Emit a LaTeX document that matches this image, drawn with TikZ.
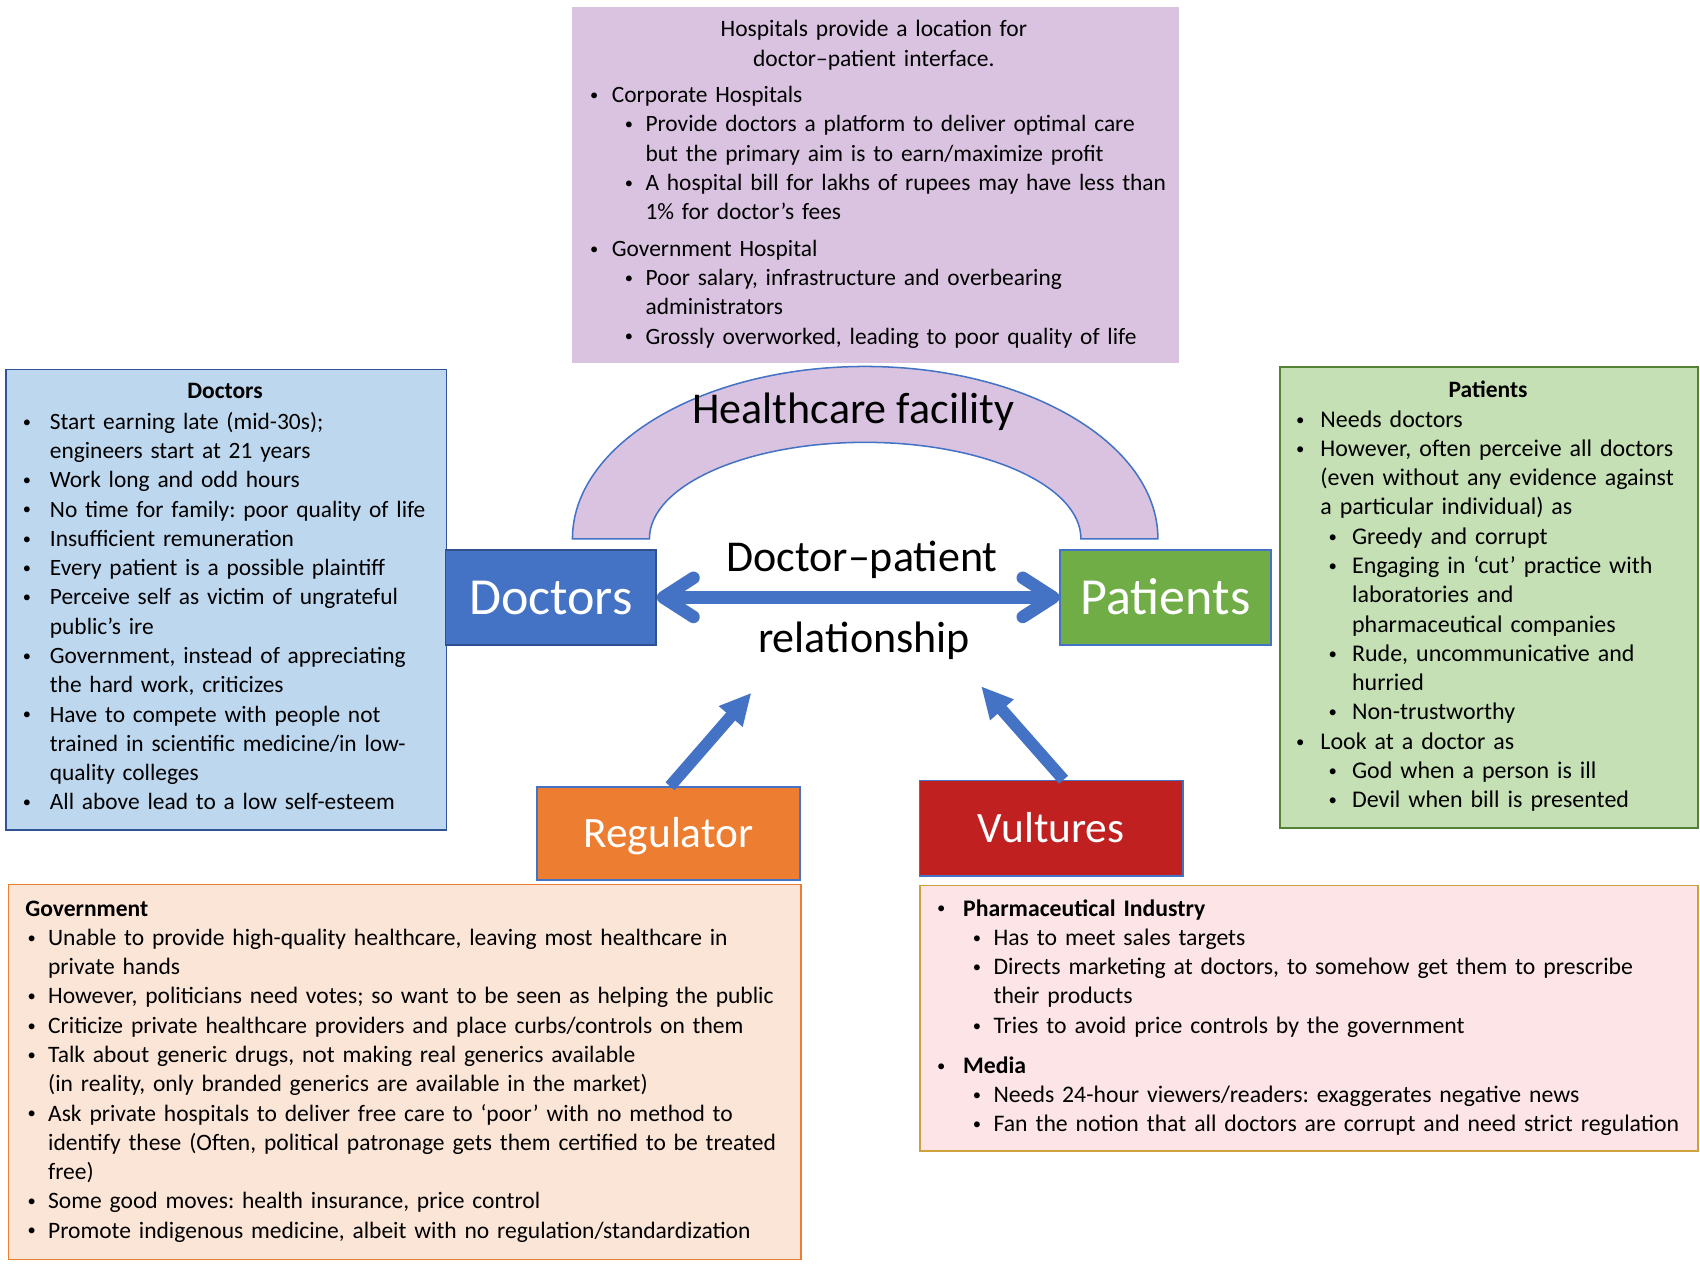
\documentclass[tikz,border=0pt]{standalone}
\usepackage{fontspec}
\usepackage{graphicx}
\setmainfont{Carlito}
\usetikzlibrary{arrows.meta}
\definecolor{lav}{HTML}{D9C3E0}
\definecolor{docfill}{HTML}{BDD7EE}
\definecolor{docline}{HTML}{2F5597}
\definecolor{patfill}{HTML}{C5E0B4}
\definecolor{patline}{HTML}{548235}
\definecolor{accblue}{HTML}{4472C4}
\definecolor{darkblue}{HTML}{2F528F}
\definecolor{accgreen}{HTML}{70AD47}
\definecolor{accorange}{HTML}{ED7D31}
\definecolor{accred}{HTML}{C0201F}
\definecolor{govfill}{HTML}{FBE5D6}
\definecolor{medfill}{HTML}{FCE4E7}
\definecolor{medline}{HTML}{CDA23C}
\newdimen\upx \upx=0.5pt
\newcommand\mybul{\raisebox{1pt}{\scalebox{0.7}{\textbullet}}}
\newcommand\Bul[3]{\hspace*{#1\upx}\makebox[#2\upx][l]{\mybul}#3\par}
\newcommand\Con[2]{\hspace*{#1\upx}#2\par}
\hbadness=10000 \hfuzz=50pt
\tikzset{
  panel/.style={draw, line width=0.8pt, inner sep=0pt, anchor=north west},
  listtext/.style 2 args={anchor=base west, inner sep=0pt, align=left, text width=#1,
    font=\fontsize{#2}{13.5}\selectfont\frenchspacing},
  bodytext/.style={inner sep=0pt, font=\fontsize{10.85}{13.5}\selectfont\frenchspacing},
  mainbox/.style={draw, line width=0.8pt, inner sep=0pt, text=white, text depth=0pt},
  bigtext/.style={inner sep=0pt, anchor=base, font=\fontsize{20.3}{24}\selectfont},
  dblarrow/.style={draw=accblue, line width=5.8pt,
    {Straight Barb[length=14pt,width=18pt,round]}-{Straight Barb[length=14pt,width=18pt,round]}},
  uparrow/.style={draw=accblue, line width=5.5pt, -{Triangle[length=14.5pt,width=13.5pt]}}
}
\begin{document}
\begin{tikzpicture}[x=0.5pt,y=-0.5pt]
\useasboundingbox[fill=white] (0,0) rectangle (1568,1166);

% top hospital box
\node[panel, fill=lav, draw=none, minimum width=280pt, minimum height=164pt] (hosp) at (527,6) {};
\node[bodytext, anchor=base, text width=270pt, align=center] (hosptitle) at (806,34)
  {Hospitals provide a location for\\doctor–patient interface.};
\node[listtext={300pt}{10.8}] (hosplist) at (544,94.6) {%
\Bul{0}{20}{Corporate Hospitals}
\Bul{32}{19}{Provide doctors a platform to deliver optimal care}
\Con{51}{but the primary aim is to earn/maximize profit}
\Bul{32}{19}{A hospital bill for lakhs of rupees may have less than}
\Con{51}{1\% for doctor’s fees}
\vspace{3.35pt}
\Bul{0}{20}{Government Hospital}
\Bul{32}{19}{Poor salary, infrastructure and overbearing}
\Con{51}{administrators}
\Bul{32}{19}{Grossly overworked, leading to poor quality of life}};

% arch
\path[draw=accblue, fill=lav, line width=0.7pt] (528,497)
  arc[start angle=180, end angle=0, x radius=135pt, y radius=79.5pt]
  -- (997,497)
  arc[start angle=0, end angle=180, x radius=99.5pt, y radius=44.5pt] -- cycle;
\node[bigtext] (hf) at (787,391) {Healthcare facility};

% doctors text box
\node[panel, fill=docfill, draw=docline, minimum width=203pt, minimum height=212.5pt] (docbox) at (5,340) {};
\node[bodytext, anchor=base] (doctitle) at (207.5,368) {\textbf{Doctors}};
\node[listtext={220pt}{10.8}] (doclist) at (20.6,396) {%
\Bul{0}{25}{Start earning late (mid-30s);}
\Con{25}{engineers start at 21 years}
\Bul{0}{25}{Work long and odd hours}
\Bul{0}{25}{No time for family: poor quality of life}
\Bul{0}{25}{Insufficient remuneration}
\Bul{0}{25}{Every patient is a possible plaintiff}
\Bul{0}{25}{Perceive self as victim of ungrateful}
\Con{25}{public’s ire}
\Bul{0}{25}{Government, instead of appreciating}
\Con{25}{the hard work, criticizes}
\Bul{0}{25}{Have to compete with people not}
\Con{25}{trained in scientific medicine/in low-}
\Con{25}{quality colleges}
\Bul{0}{25}{All above lead to a low self-esteem}};

% patients text box
\node[panel, fill=patfill, draw=patline, minimum width=192.5pt, minimum height=212.5pt] (patbox) at (1180,338) {};
\node[bodytext, anchor=base] (pattitle) at (1372.5,366.7) {\textbf{Patients}};
\node[listtext={220pt}{11.05}] (patlist) at (1195,394) {%
\Bul{0}{22.5}{Needs doctors}
\Bul{0}{22.5}{However, often perceive all doctors}
\Con{22.5}{(even without any evidence against}
\Con{22.5}{a particular individual) as}
\Bul{30}{21.7}{Greedy and corrupt}
\Bul{30}{21.7}{Engaging in ‘cut’ practice with}
\Con{51.7}{laboratories and}
\Con{51.7}{pharmaceutical companies}
\Bul{30}{21.7}{Rude, uncommunicative and}
\Con{51.7}{hurried}
\Bul{30}{21.7}{Non-trustworthy}
\Bul{0}{22.5}{Look at a doctor as}
\Bul{30}{21.7}{God when a person is ill}
\Bul{30}{21.7}{Devil when bill is presented}};

% main actor boxes
\node[mainbox, fill=accblue, draw=darkblue, minimum width=97pt, minimum height=44pt,
  font=\fontsize{24}{28}\selectfont, text height=15.5pt] (docmain) at (508,551) {Doctors};
\node[mainbox, fill=accgreen, draw=accblue, minimum width=97pt, minimum height=44pt,
  font=\fontsize{24}{28}\selectfont, text height=15.5pt] (patmain) at (1075,551) {Patients};
\node[mainbox, fill=accorange, draw=accblue, minimum width=121.5pt, minimum height=43pt,
  font=\fontsize{20}{24}\selectfont, text height=12.9pt] (regmain) at (616.5,769) {Regulator};
\node[mainbox, fill=accred, draw=accblue, minimum width=121.5pt, minimum height=44pt,
  font=\fontsize{20}{24}\selectfont, text height=12.9pt] (vulmain) at (969.5,764) {Vultures};

% relationship
\node[bigtext] (dp1) at (795,527) {Doctor–patient};
\node[bigtext] (dp2) at (797,602) {relationship};
\draw[dblarrow] (docmain.east) -- (patmain.west);
\coordinate (regtip) at (693,639);
\coordinate (vultip) at (905,633);
\draw[uparrow] ([xshift=0.75pt]regmain.north) -- (regtip);
\draw[uparrow] ([xshift=5.75pt]vulmain.north) -- (vultip);

% government box
\node[panel, fill=govfill, draw=accorange, minimum width=365.5pt, minimum height=173pt] (govbox) at (7,815) {};
\node[listtext={380pt}{10.85}] (govlist) at (25,845) {%
\hspace*{-2\upx}\textbf{Government}\par
\Bul{0}{19}{Unable to provide high-quality healthcare, leaving most healthcare in}
\Con{19}{private hands}
\Bul{0}{19}{However, politicians need votes; so want to be seen as helping the public}
\Bul{0}{19}{Criticize private healthcare providers and place curbs/controls on them}
\Bul{0}{19}{Talk about generic drugs, not making real generics available}
\Con{19}{(in reality, only branded generics are available in the market)}
\Bul{0}{19}{Ask private hospitals to deliver free care to ‘poor’ with no method to}
\Con{19}{identify these (Often, political patronage gets them certified to be treated}
\Con{19}{free)}
\Bul{0}{19}{Some good moves: health insurance, price control}
\Bul{0}{19}{Promote indigenous medicine, albeit with no regulation/standardization}};

% vultures box
\node[panel, fill=medfill, draw=medline, minimum width=358.5pt, minimum height=122.5pt] (medbox) at (848,816) {};
\node[listtext={380pt}{10.95}] (medlist) at (864,845) {%
\Bul{0}{24}{\textbf{Pharmaceutical Industry}}
\Bul{33}{19}{Has to meet sales targets}
\Bul{33}{19}{Directs marketing at doctors, to somehow get them to prescribe}
\Con{52}{their products}
\Bul{33}{19}{Tries to avoid price controls by the government}
\vspace{5pt}
\Bul{0}{24}{\textbf{Media}}
\Bul{33}{19}{Needs 24-hour viewers/readers: exaggerates negative news}
\Bul{33}{19}{Fan the notion that all doctors are corrupt and need strict regulation}};
\end{tikzpicture}
\end{document}
